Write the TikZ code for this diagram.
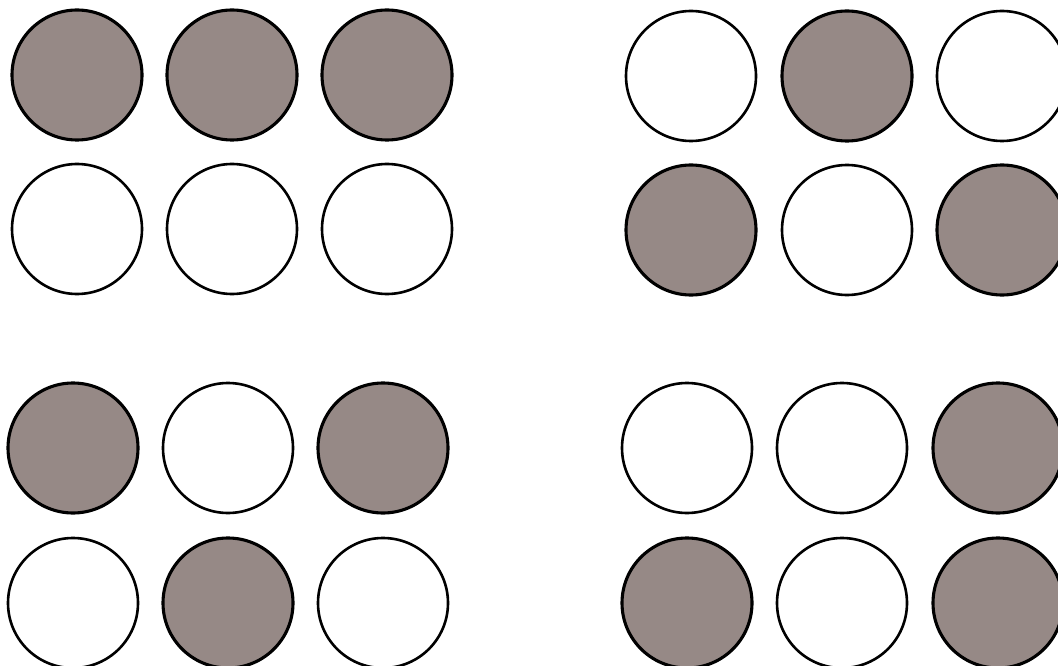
\documentclass[tikz,border=0pt]{standalone}
\definecolor{speck}{RGB}{150,137,134}
\begin{document}
\begin{tikzpicture}[x=1pt,y=-1pt,
  dot/.style={circle,draw=black,line width=2.6pt,minimum size=130pt,inner sep=0pt},
  full/.style={dot,fill=speck,line width=3.1pt},
  empty/.style={dot,fill=white}]
\useasboundingbox (0,0) rectangle (1058,666);
\clip (0,0) rectangle (1058,666);
% top left
\node[full]  (a1) at (77,75) {};
\node[full]  (a2) at (232,75) {};
\node[full]  (a3) at (387,75) {};
\node[empty] (a4) at (77,229) {};
\node[empty] (a5) at (232,229) {};
\node[empty] (a6) at (387,229) {};
% top right
\node[empty] (b1) at (691,76) {};
\node[full]  (b2) at (847,76) {};
\node[empty] (b3) at (1002,76) {};
\node[full]  (b4) at (691,230) {};
\node[empty] (b5) at (847,230) {};
\node[full]  (b6) at (1002,230) {};
% bottom left
\node[full]  (c1) at (73,448) {};
\node[empty] (c2) at (228,448) {};
\node[full]  (c3) at (383,448) {};
\node[empty] (c4) at (73,603) {};
\node[full]  (c5) at (228,603) {};
\node[empty] (c6) at (383,603) {};
% bottom right
\node[empty] (d1) at (687,448) {};
\node[empty] (d2) at (842,448) {};
\node[full]  (d3) at (998,448) {};
\node[full]  (d4) at (687,603) {};
\node[empty] (d5) at (842,603) {};
\node[full]  (d6) at (998,603) {};
\end{tikzpicture}
\end{document}
